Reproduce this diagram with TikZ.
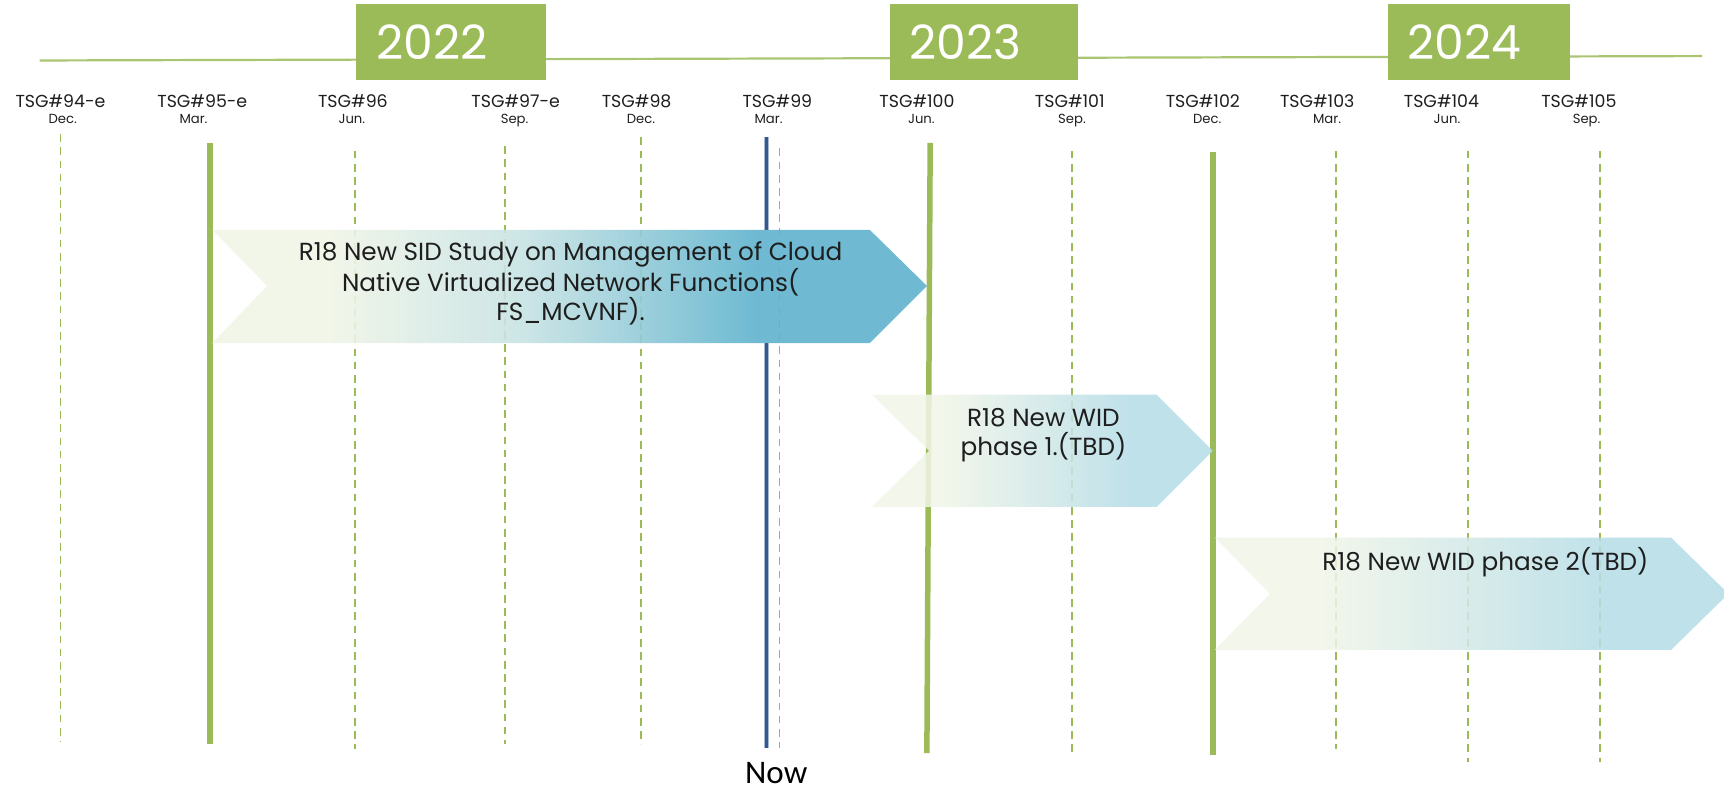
\documentclass[tikz,border=0pt]{standalone}
\usepackage{fontspec}
\setmainfont{Poppins}
\newfontfamily\nowfont{Carlito}
\usetikzlibrary{positioning}

\definecolor{tlgreen}{HTML}{9BBB59}
\definecolor{tltext}{HTML}{1E1E1E}
\definecolor{chevlight}{HTML}{F1F5E7}
\definecolor{chevmid}{HTML}{C6E2E3}
\definecolor{chevteal}{HTML}{5FB3CD}
\definecolor{chevpale}{HTML}{B4DCE6}
\definecolor{nowblue}{HTML}{34578F}
\definecolor{nowhalo}{HTML}{A9B9D4}

% left-to-right fills of the chevrons (path box maps to 25bp..75bp)
\pgfdeclarehorizontalshading{chevdeep}{100bp}{%
  color(0bp)=(chevlight); color(25bp)=(chevlight); color(33bp)=(chevlight);
  color(47bp)=(chevmid); color(63bp)=(chevteal); color(100bp)=(chevteal)}
\pgfdeclarehorizontalshading{chevsoft}{100bp}{%
  color(0bp)=(chevlight); color(25bp)=(chevlight); color(35bp)=(chevlight);
  color(63bp)=(chevpale); color(100bp)=(chevpale)}

\begin{document}
\begin{tikzpicture}[x=1pt,y=-1pt,
  yearbox/.style={fill=tlgreen, text=white, anchor=north west,
    minimum height=70pt, inner xsep=18pt, inner ysep=0pt, align=left,
    font=\fontsize{43}{46}\selectfont},
  tsgname/.style={anchor=base, text=tltext, inner sep=0pt,
    font=\fontsize{15.8}{18}\selectfont},
  month/.style={anchor=base, text=tltext, inner sep=0pt,
    font=\fontsize{12}{14}\selectfont},
  meetdash/.style={draw=tlgreen, line width=1.6pt, dash pattern=on 7pt off 5pt},
  meetsolid/.style={draw=tlgreen, line width=5pt},
  chevtext/.style={text=tltext, align=center, inner sep=0pt,
    font=\fontsize{22.5}{26.5}\selectfont}]

\useasboundingbox (0,0) rectangle (1568,718);

% main time axis behind the year tabs
\coordinate (axl) at (36,55);
\coordinate (axr) at (1548,51);
\draw[tlgreen!85, line width=2pt] (axl) -- (axr);

\node[yearbox, text width=136pt] (y22) at (324,3) {2022};
\node[yearbox, text width=135pt] (y23) at (809,3) {2023};
\node[yearbox, text width=130pt] (y24) at (1262,3) {2024};

% meeting labels
\foreach \nm/\mo/\xa/\xb [count=\i] in {
  TSG\#94-e/Dec./55/57, TSG\#95-e/Mar./184/176, TSG\#96/Jun./321/320,
  TSG\#97-e/Sep./469/468, TSG\#98/Dec./579/583, TSG\#99/Mar./707/699,
  TSG\#100/Jun./834/838, TSG\#101/Sep./973/975, TSG\#102/Dec./1094/1098,
  TSG\#103/Mar./1198/1207, TSG\#104/Jun./1311/1316, TSG\#105/Sep./1436/1443}{
  \node[tsgname] (tsg\i) at (\xa,97.5) {\nm};
  \node[month] (mon\i) at (\xb,112.5) {\mo};
}

% meeting guide lines
\foreach \x/\ya/\yb [count=\i] in {55/122/675, 323/137/681, 459/133/677,
  583/125/677, 709/135/680, 975/137/687, 1215/137/681, 1335/137/693,
  1455/137/693}{
  \coordinate (dt\i) at (\x,\ya);
  \coordinate (db\i) at (\x,\yb);
  \draw[meetdash] (dt\i) -- (db\i);
}
\coordinate (s1t) at (191,130);  \coordinate (s1b) at (191,677);
\coordinate (s2t) at (846,130);  \coordinate (s2b) at (843,685);
\coordinate (s3t) at (1103,138); \coordinate (s3b) at (1103,687);
\draw[meetsolid] (s1t) -- (s1b);
\draw[meetsolid] (s2t) -- (s2b);
\draw[meetsolid] (s3t) -- (s3b);

% "Now" marker, hidden where the study chevron covers it
\coordinate (nowt) at (697,125);
\coordinate (nowb) at (697,680);
\begin{scope}
  \clip (680,0) rectangle (715,209) (680,312) rectangle (715,718);
  \draw[nowhalo, line width=5pt] (nowt) -- (nowb);
  \draw[nowblue, line width=3pt] (nowt) -- (nowb);
\end{scope}
\node[anchor=base, inner sep=0pt, text=black,
  font=\nowfont\fontsize{30}{33}\selectfont] (now) at (706,712.5) {Now};

% work item chevrons
\begin{scope}
  \clip (0,0) rectangle (1568,718);
  \shade[shading=chevdeep, fill opacity=0.9]
    (193,209) -- (791,209) -- (843,260) -- (791,312) -- (193,312) -- (243,260) -- cycle;
  \shade[shading=chevsoft, fill opacity=0.85]
    (793,359) -- (1052,359) -- (1103,410) -- (1052,461) -- (793,461) -- (845,410) -- cycle;
  \shade[shading=chevsoft, fill opacity=0.85]
    (1105,489) -- (1520,489) -- (1572,540) -- (1520,591) -- (1105,591) -- (1155,540) -- cycle;
\end{scope}

\node[chevtext] (a1) at (519,258)
  {R18 New SID Study on Management of Cloud\\Native Virtualized Network Functions(\\FS\_MCVNF).};
\node[chevtext] (a2) at (949,395.5) {R18 New WID\\phase 1.(TBD)};
\node[chevtext] (a3) at (1351,511) {R18 New WID phase 2(TBD)};

\end{tikzpicture}
\end{document}
